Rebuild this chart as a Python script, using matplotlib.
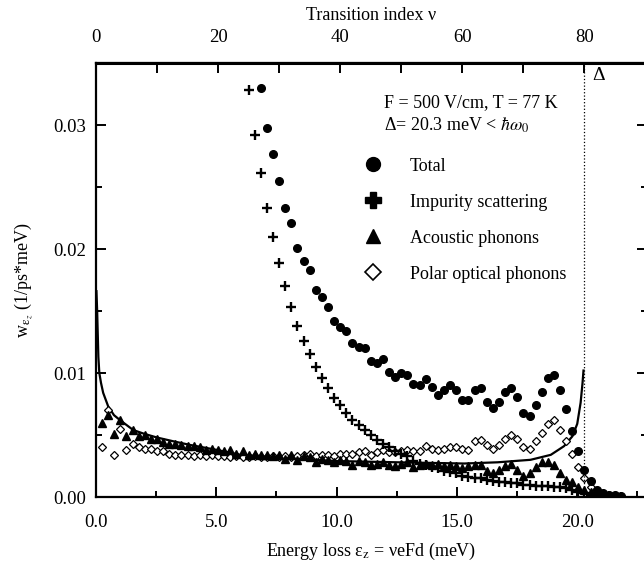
import matplotlib
matplotlib.use('Agg')
import matplotlib.pyplot as plt
from matplotlib.lines import Line2D
from matplotlib.ticker import MultipleLocator, FormatStrFormatter
import numpy as np

plt.rcParams['font.family'] = ['Liberation Serif', 'DejaVu Serif']
plt.rcParams['mathtext.fontset'] = 'stix'

# energy step per transition (Delta = 20.3 meV at nu = 80)
delta = 20.3
efd = delta / 80

# Total (filled circles), nu = 27 ... 86
total_start = 27
total_w = [0.0330, 0.0298, 0.0277, 0.0255, 0.0233, 0.0221, 0.0201, 0.0190, 0.0183, 0.0167,
           0.0161, 0.0153, 0.0142, 0.0137, 0.0134, 0.0124, 0.0121, 0.0120, 0.0110, 0.0108,
           0.0111, 0.0101, 0.0097, 0.0100, 0.0098, 0.0091, 0.0090, 0.0095, 0.0089, 0.0082,
           0.0086, 0.0090, 0.0086, 0.0078, 0.0078, 0.0086, 0.0088, 0.0077, 0.0072, 0.0077,
           0.0085, 0.0088, 0.0081, 0.0068, 0.0065, 0.0074, 0.0085, 0.0096, 0.0098, 0.0086,
           0.0071, 0.0053, 0.0037, 0.0022, 0.0013, 0.0006, 0.0003, 0.0002, 0.00015, 0.0001]

# Impurity scattering (+), nu = 25 ... 86
imp_start = 25
imp_w = [0.0328, 0.0292, 0.0261, 0.0233, 0.0210, 0.0189, 0.0170, 0.0153, 0.0138, 0.0126,
         0.0115, 0.0105, 0.0096, 0.0088, 0.0080, 0.0074, 0.0068, 0.0062, 0.0058, 0.0054,
         0.0050, 0.0046, 0.0043, 0.0040, 0.0037, 0.0035, 0.0033, 0.0029, 0.0027, 0.0026,
         0.0024, 0.0023, 0.0021, 0.0020, 0.0019, 0.0017, 0.0016, 0.0015, 0.0015, 0.0014,
         0.0013, 0.0012, 0.0012, 0.0011, 0.0011, 0.0010, 0.0010, 0.0009, 0.0009, 0.0009,
         0.0008, 0.0008, 0.0007, 0.0006, 0.0004, 0.0003, 0.0002, 0.0001, 0.0001, 0.00005,
         0.0, 0.0]

# Acoustic phonons (filled triangles), nu = 1 ... 86
ac_start = 1
ac_w = [0.0060, 0.0066, 0.0051, 0.0062, 0.0049, 0.0054, 0.0049, 0.0050, 0.0047, 0.0047,
        0.0044, 0.0043, 0.0043, 0.0042, 0.0041, 0.0041, 0.0040, 0.0038, 0.0039, 0.0038,
        0.0037, 0.0038, 0.0035, 0.0037, 0.0034, 0.0035, 0.0034, 0.0034, 0.0033, 0.0034,
        0.0031, 0.0034, 0.0030, 0.0033, 0.0032, 0.0028, 0.0031, 0.0030, 0.0028, 0.0030,
        0.0029, 0.0026, 0.0029, 0.0028, 0.0026, 0.0027, 0.0028, 0.0026, 0.0025, 0.0027,
        0.0028, 0.0024, 0.0026, 0.0027, 0.0026, 0.0027, 0.0025, 0.0026, 0.0025, 0.0023,
        0.0025, 0.0026, 0.0026, 0.0021, 0.0019, 0.0022, 0.0025, 0.0027, 0.0022, 0.0017,
        0.0019, 0.0024, 0.0028, 0.0028, 0.0026, 0.0019, 0.0014, 0.0012, 0.0008, 0.0006,
        0.0004, 0.0002, 0.0001, 0.0001, 0.00005, 0.0]

# Polar optical phonons (open diamonds), nu = 1 ... 86
po_start = 1
po_w = [0.0040, 0.0070, 0.0034, 0.0055, 0.0038, 0.0043, 0.0040, 0.0039, 0.0039, 0.0037,
        0.0037, 0.0035, 0.0034, 0.0034, 0.0034, 0.0033, 0.0034, 0.0033, 0.0034, 0.0033,
        0.0033, 0.0032, 0.0033, 0.0032, 0.0032, 0.0033, 0.0032, 0.0032, 0.0033, 0.0032,
        0.0033, 0.0032, 0.0033, 0.0034, 0.0035, 0.0033, 0.0034, 0.0034, 0.0033, 0.0035,
        0.0035, 0.0035, 0.0036, 0.0037, 0.0034, 0.0036, 0.0038, 0.0036, 0.0036, 0.0037,
        0.0038, 0.0037, 0.0037, 0.0041, 0.0039, 0.0038, 0.0039, 0.0040, 0.0040, 0.0039,
        0.0038, 0.0045, 0.0046, 0.0042, 0.0039, 0.0042, 0.0047, 0.0050, 0.0047, 0.0040,
        0.0039, 0.0045, 0.0052, 0.0059, 0.0062, 0.0054, 0.0045, 0.0035, 0.0024, 0.0015,
        0.0008, 0.0004, 0.0002, 0.0001, 0.0001, 0.0]

# solid curve (acoustic, continuous)
line_e = [0.02, 0.05, 0.07, 0.10, 0.14, 0.21, 0.30, 0.51, 0.75, 1.0, 1.55, 2.0, 2.53, 3.2,
          3.91, 5.02, 6.0, 8.0, 10.0, 12.5, 15.3, 16.7, 18.06, 18.9, 19.45, 19.8, 20.0,
          20.14, 20.22, 20.26]
line_w = [0.0166, 0.0150, 0.0135, 0.0113, 0.0100, 0.0092, 0.0084, 0.0073, 0.0066, 0.0062,
          0.0054, 0.0051, 0.0048, 0.0045, 0.0042, 0.0038, 0.0034, 0.0031, 0.0029, 0.0028,
          0.0027, 0.0028, 0.0030, 0.0034, 0.0041, 0.0049, 0.0059, 0.0076, 0.0092, 0.0102]

nu_ticks = [0, 20, 40, 60, 80]
nu_minor = [10, 30, 50, 70, 90]


def energies(start, values):
    nu = np.arange(start, start + len(values))
    return nu * efd


fig = plt.figure(figsize=(6.44, 5.68), dpi=100)
ax = fig.add_axes([0.149, 0.125, 0.8557, 0.764])

ax.plot(line_e, line_w, color='black', lw=1.6)
ax.plot(energies(po_start, po_w), po_w, ls='none', marker='D', ms=4.2,
        mfc='white', mec='black', mew=0.9)
ax.plot(energies(ac_start, ac_w), ac_w, ls='none', marker='^', ms=5.5, color='black')
ax.plot(energies(imp_start, imp_w), imp_w, ls='none', marker='+', ms=6.5,
        mew=1.7, color='black')
ax.plot(energies(total_start, total_w), total_w, ls='none', marker='o', ms=5.5, color='black')

ax.axvline(delta, color='black', ls=':', lw=0.9)

ax.set_xlim(0, 22.9)
ax.set_ylim(0, 0.035)

ax.xaxis.set_major_locator(MultipleLocator(5))
ax.xaxis.set_minor_locator(MultipleLocator(2.5))
ax.xaxis.set_major_formatter(FormatStrFormatter('%.1f'))
ax.yaxis.set_major_locator(MultipleLocator(0.01))
ax.yaxis.set_minor_locator(MultipleLocator(0.005))
ax.yaxis.set_major_formatter(FormatStrFormatter('%.2f'))
ax.tick_params(which='both', direction='in', top=False, right=True,
               labelsize=13.5, width=1.4)
ax.tick_params(axis='x', which='major', length=7, pad=12)
ax.tick_params(axis='x', which='minor', length=4)
ax.tick_params(axis='y', which='major', length=7, pad=7)
ax.tick_params(axis='y', which='minor', length=4)
for s in ax.spines.values():
    s.set_linewidth(1.6)

sec = ax.secondary_xaxis('top', functions=(lambda e: e / efd, lambda n: n * efd))
sec.set_xticks(nu_ticks)
sec.set_xticks(nu_minor, minor=True)
sec.tick_params(which='both', direction='in', length=7, width=1.4,
                labelsize=13.5, pad=12)
sec.spines['top'].set_linewidth(2.2)
sec.set_xlabel('Transition index ν', fontsize=13, labelpad=7)

ax.set_xlabel(r'Energy loss ε$_\mathrm{z}$ = νeFd (meV)', fontsize=13, labelpad=7)
ax.set_ylabel(r'w$_{\mathrm{\varepsilon}_z}$ (1/ps*meV)', fontsize=13, labelpad=13)

ax.text(0.523, 0.910, 'F = 500 V/cm, T = 77 K', transform=ax.transAxes,
        fontsize=13, va='center', ha='left')
ax.text(0.523, 0.856, r'Δ= 20.3 meV < $\hbar\omega_0$', transform=ax.transAxes,
        fontsize=13, va='center', ha='left')
ax.text(0.900, 0.972, 'Δ', transform=ax.transAxes, fontsize=14,
        va='center', ha='left')

handles = [
    Line2D([], [], ls='none', marker='o', ms=10, color='black'),
    Line2D([], [], ls='none', marker='P', ms=11, color='black'),
    Line2D([], [], ls='none', marker='^', ms=10, color='black'),
    Line2D([], [], ls='none', marker='D', ms=8, mfc='white', mec='black', mew=1.2),
]
labels = ['Total', 'Impurity scattering', 'Acoustic phonons', 'Polar optical phonons']
ax.legend(handles, labels, loc='upper left', bbox_to_anchor=(0.486, 0.782),
          frameon=False, fontsize=13, handlelength=1.0, handletextpad=1.55,
          labelspacing=1.05, borderaxespad=0, borderpad=0)

fig.savefig('out.png', dpi=100)
